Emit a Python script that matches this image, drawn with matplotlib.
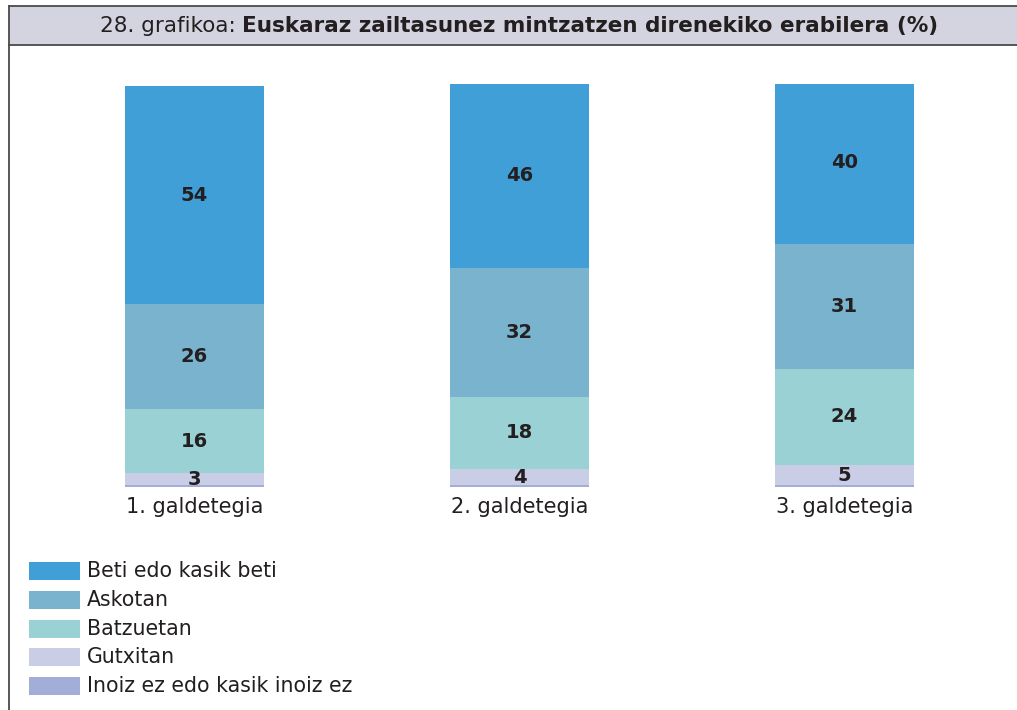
import matplotlib
matplotlib.use("Agg")
import matplotlib.pyplot as plt
from matplotlib.patches import Rectangle
from matplotlib.lines import Line2D
import numpy as np

# ---- data ----
categories = ["1. galdetegia", "2. galdetegia", "3. galdetegia"]
series_names = ["Inoiz ez edo kasik inoiz ez", "Gutxitan", "Batzuetan", "Askotan", "Beti edo kasik beti"]
inoiz = [0.4, 0.4, 0.4]
gutxitan = [3, 4, 5]
batzuetan = [16, 18, 24]
askotan = [26, 32, 31]
beti = [54, 46, 40]
legend_order = ["Beti edo kasik beti", "Askotan", "Batzuetan", "Gutxitan", "Inoiz ez edo kasik inoiz ez"]
title_regular = "28. grafikoa: "
title_bold = "Euskaraz zailtasunez mintzatzen direnekiko erabilera (%)"

colors = {
    "Beti edo kasik beti": "#419fd8",
    "Askotan": "#7ab3ce",
    "Batzuetan": "#9ad1d4",
    "Gutxitan": "#c9cde6",
    "Inoiz ez edo kasik inoiz ez": "#a2add8",
}
series_vals = {
    "Inoiz ez edo kasik inoiz ez": inoiz,
    "Gutxitan": gutxitan,
    "Batzuetan": batzuetan,
    "Askotan": askotan,
    "Beti edo kasik beti": beti,
}
label_series = ["Gutxitan", "Batzuetan", "Askotan", "Beti edo kasik beti"]

W, H = 1017, 710
fig = plt.figure(figsize=(W / 100, H / 100), dpi=100)
fig.patch.set_facecolor("white")
txtc = "#231f20"

def fx(px):
    return px / W

def fy(py):
    return 1 - py / H

# ---- frame and title band ----
fig.patches.append(Rectangle((fx(9), fy(45)), fx(W - 9) + 0.01, (45 - 6) / H,
                             transform=fig.transFigure, facecolor="#d4d3e0",
                             edgecolor="none", zorder=0))
lc = "#4a4a4a"
fig.lines.append(Line2D([fx(9), 1.0], [fy(6), fy(6)], transform=fig.transFigure, color=lc, lw=1.3))
fig.lines.append(Line2D([fx(9), 1.0], [fy(45), fy(45)], transform=fig.transFigure, color=lc, lw=1.3))
fig.lines.append(Line2D([fx(9), fx(9)], [fy(6), 0.0], transform=fig.transFigure, color=lc, lw=1.3))

# title: regular + bold parts, centered
fs_title = 15.5
t1 = fig.text(0, fy(26), title_regular, fontsize=fs_title, color=txtc, va="center", ha="left")
t2 = fig.text(0, fy(26), title_bold, fontsize=fs_title, color=txtc, va="center", ha="left", fontweight="bold")
fig.canvas.draw()
r = fig.canvas.get_renderer()
w1 = t1.get_window_extent(r).width
w2 = t2.get_window_extent(r).width
start = 519 - (w1 + w2) / 2
t1.set_x(start / W)
t2.set_x((start + w1) / W)

# ---- bars ----
ax = fig.add_axes([fx(32), (H - 487) / H, (1007 - 32) / W, (487 - 84) / H])
x = np.arange(len(categories))
bw = 139 / 325
bottom = np.zeros(len(categories))
for name in series_names:
    vals = np.array(series_vals[name], dtype=float)
    ax.bar(x, vals, bw, bottom=bottom, color=colors[name], edgecolor="none", label=name)
    if name in label_series:
        for xi, b, v in zip(x, bottom, vals):
            ax.text(xi, b + v / 2, f"{v:g}", ha="center", va="center",
                    fontsize=14, fontweight="bold", color=txtc)
    bottom += vals

ax.set_xlim(-0.5, 2.5)
ax.set_ylim(0, 100)
ax.set_xticks(x)
ax.set_xticklabels(categories, fontsize=15, color=txtc)
ax.tick_params(axis="x", length=0, pad=7)
ax.set_yticks([])
for s in ax.spines.values():
    s.set_visible(False)
ax.patch.set_alpha(0)

# ---- legend ----
for i, name in enumerate(legend_order):
    yc = 571 + 28.8 * i
    fig.patches.append(Rectangle((fx(29), fy(yc + 9)), 51 / W, 18 / H,
                                 transform=fig.transFigure, facecolor=colors[name],
                                 edgecolor="none"))
    fig.text(fx(87), fy(yc), name, fontsize=14.8, color=txtc, va="center", ha="left")

fig.savefig("out.png", dpi=100)
